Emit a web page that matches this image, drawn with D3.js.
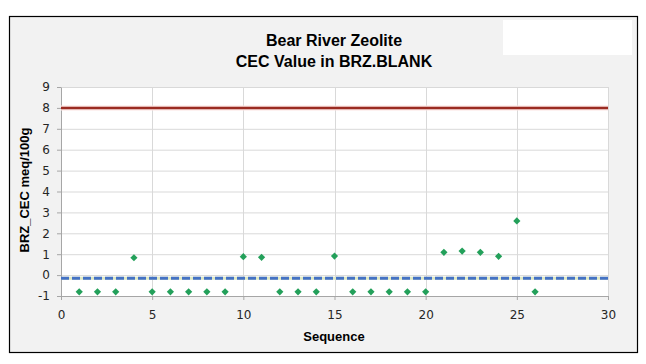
<!DOCTYPE html>
<html>
<head>
<meta charset="utf-8">
<script src="https://cdn.jsdelivr.net/npm/d3@7"></script>
<style>
  body { margin: 0; background: #fff; }
  text { font-family: "Liberation Sans", Arial, sans-serif; }
</style>
</head>
<body>
<script>
var width = 646,
    height = 364;

// sequence numbers and measured CEC values
var sequence = [1, 2, 3, 4, 5, 6, 7, 8, 9, 10, 11, 12, 13, 14, 15, 16, 17, 18, 19, 20, 21, 22, 23, 24, 25, 26];
var cec = [-0.8, -0.8, -0.8, 0.83, -0.8, -0.8, -0.8, -0.8, -0.8, 0.88, 0.85, -0.8, -0.8, -0.8, 0.91,
           -0.8, -0.8, -0.8, -0.8, -0.8, 1.09, 1.15, 1.09, 0.9, 2.59, -0.8];
var upperLimit = 8,
    blankLine = -0.15;
var xTicks = [0, 5, 10, 15, 20, 25, 30],
    yTicks = [-1, 0, 1, 2, 3, 4, 5, 6, 7, 8, 9];
var titleLines = ["Bear River Zeolite", "CEC Value in BRZ.BLANK"];

var svg = d3.select("body").append("svg")
    .attr("width", width)
    .attr("height", height);

// chart frame
svg.append("rect")
    .attr("x", 9.5).attr("y", 16.5)
    .attr("width", 628).attr("height", 336)
    .attr("fill", "#f2f2f2")
    .attr("stroke", "#000").attr("stroke-width", 1.2);

svg.append("rect")
    .attr("x", 503).attr("y", 20)
    .attr("width", 129).attr("height", 35)
    .attr("fill", "#fff");

var x = d3.scaleLinear().domain([0, 30]).range([61, 608]),
    y = d3.scaleLinear().domain([-1, 9]).range([296, 87]);

// plot area
svg.append("rect")
    .attr("x", x(0)).attr("y", y(9))
    .attr("width", x(30) - x(0)).attr("height", y(-1) - y(9))
    .attr("fill", "#fff");

// grid
svg.append("g").selectAll("line")
    .data(yTicks.slice(1))
    .enter().append("line")
    .attr("x1", x(0)).attr("x2", x(30))
    .attr("y1", function(d) { return y(d) + 0.5; })
    .attr("y2", function(d) { return y(d) + 0.5; })
    .attr("stroke", "#d9d9d9");

svg.append("g").selectAll("line")
    .data(xTicks.slice(1))
    .enter().append("line")
    .attr("y1", y(9)).attr("y2", y(-1))
    .attr("x1", function(d) { return Math.round(x(d)) + 0.5; })
    .attr("x2", function(d) { return Math.round(x(d)) + 0.5; })
    .attr("stroke", "#d9d9d9");

// axes (plain hyphen minus like the original)
var fmt = function(d) { return String(d); };

var xAxis = svg.append("g")
    .attr("transform", "translate(0," + y(-1) + ")")
    .call(d3.axisBottom(x).tickValues(xTicks).tickFormat(fmt).tickSize(4).tickSizeOuter(0).tickPadding(10));

var yAxis = svg.append("g")
    .attr("transform", "translate(" + x(0) + ",0)")
    .call(d3.axisLeft(y).tickValues(yTicks).tickFormat(fmt).tickSize(4).tickSizeOuter(0).tickPadding(7));

[xAxis, yAxis].forEach(function(a) {
  a.select(".domain").attr("stroke", "#a6a6a6");
  a.selectAll(".tick line").attr("stroke", "#a6a6a6");
  a.selectAll(".tick text")
    .attr("fill", "#262626")
    .style("font-size", "12px")
    .style("font-family", "'DejaVu Sans', sans-serif");
});

// reference lines
svg.append("line")
    .attr("x1", x(0)).attr("x2", x(30))
    .attr("y1", y(upperLimit)).attr("y2", y(upperLimit))
    .attr("stroke", "#fbe4e2").attr("stroke-width", 5);
svg.append("line")
    .attr("x1", x(0)).attr("x2", x(30))
    .attr("y1", y(upperLimit)).attr("y2", y(upperLimit))
    .attr("stroke", "#9a2b22").attr("stroke-width", 2.5);

svg.append("line")
    .attr("x1", x(0)).attr("x2", x(30))
    .attr("y1", y(blankLine)).attr("y2", y(blankLine))
    .attr("stroke", "#dde8c4").attr("stroke-width", 3);
svg.append("line")
    .attr("x1", x(0)).attr("x2", x(30))
    .attr("y1", y(blankLine)).attr("y2", y(blankLine))
    .attr("stroke", "#4472c4").attr("stroke-width", 3)
    .attr("stroke-dasharray", "8,3");

// data points: square diamonds
svg.append("g").selectAll("path")
    .data(sequence)
    .enter().append("path")
    .attr("d", d3.symbol().type(d3.symbolSquare).size(26))
    .attr("transform", function(d, i) { return "translate(" + x(d) + "," + y(cec[i]) + ") rotate(45)"; })
    .attr("fill", "#23a05a");

// titles
svg.append("g").selectAll("text")
    .data(titleLines)
    .enter().append("text")
    .attr("x", 334).attr("y", function(d, i) { return 46 + i * 21; })
    .attr("text-anchor", "middle")
    .attr("font-weight", "bold")
    .attr("font-size", "16px")
    .attr("fill", "#000")
    .text(function(d) { return d; });

svg.append("text")
    .attr("x", 334).attr("y", 341)
    .attr("text-anchor", "middle")
    .attr("font-weight", "bold")
    .attr("font-size", "13px")
    .text("Sequence");

svg.append("text")
    .attr("transform", "translate(29,190) rotate(-90)")
    .attr("text-anchor", "middle")
    .attr("font-weight", "bold")
    .attr("font-size", "13px")
    .text("BRZ_CEC meq/100g");
</script>
</body>
</html>
